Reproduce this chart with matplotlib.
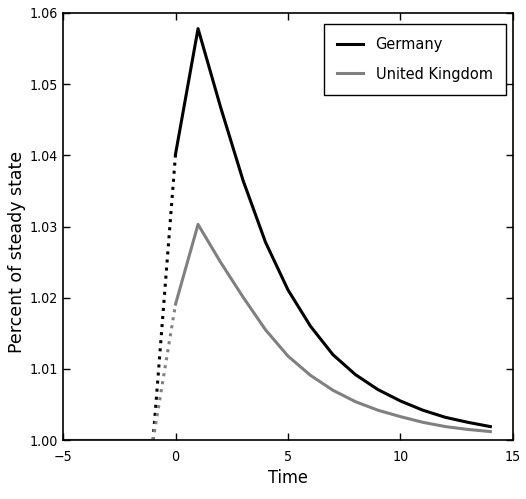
import numpy as np
import matplotlib.pyplot as plt

pre_t = [-5, -4, -3, -2, -1]
pre_val = [1.0, 1.0, 1.0, 1.0, 1.0]

jump_t = [-1, 0]
ger_jump = [1.0, 1.0402]
uk_jump = [1.0, 1.0191]

t = list(range(0, 15))
germany = [1.0402, 1.0578, 1.0468, 1.0365, 1.0278, 1.0211, 1.0160, 1.0120, 1.0092,
           1.0071, 1.0055, 1.0042, 1.0032, 1.0025, 1.0019]
uk = [1.0191, 1.0303, 1.0250, 1.0201, 1.0155, 1.0118, 1.0091, 1.0070, 1.0054,
      1.0042, 1.0033, 1.0025, 1.0019, 1.0015, 1.0012]

plt.rcParams['font.family'] = 'DejaVu Sans'
plt.rcParams['font.stretch'] = 'condensed'

fig = plt.figure(figsize=(5.26, 4.99), dpi=100)
ax = fig.add_axes([0.12, 0.118, 0.855, 0.856])

ax.plot(pre_t, pre_val, color='black', lw=2.2)
ax.plot(jump_t, ger_jump, color='black', lw=2.2, linestyle=':')
ax.plot(t, germany, color='black', lw=2.2, label='Germany')
ax.plot(pre_t, pre_val, color='0.5', lw=2.2)
ax.plot(jump_t, uk_jump, color='0.5', lw=2.2, linestyle=':')
ax.plot(t, uk, color='0.5', lw=2.2, label='United Kingdom')

ax.set_xlim(-5, 15)
ax.set_ylim(1.0, 1.06)
ax.set_xticks([-5, 0, 5, 10, 15])
ax.set_yticks([1.00, 1.01, 1.02, 1.03, 1.04, 1.05, 1.06])
ax.set_yticklabels(['1.00', '1.01', '1.02', '1.03', '1.04', '1.05', '1.06'])
ax.tick_params(direction='in', top=True, right=True, length=5, width=1,
               labelsize=10.2)
ax.tick_params(axis='x', pad=7)
ax.tick_params(axis='y', pad=4)
for s in ax.spines.values():
    s.set_linewidth(1.2)

ax.set_xlabel('Time', fontsize=13)
ax.set_ylabel('Percent of steady state', fontsize=12.5, fontstretch='normal')
ax.yaxis.set_label_coords(-0.082, 0.44)

leg = ax.legend(loc='upper right', bbox_to_anchor=(0.9844, 0.9742), borderaxespad=0,
                fontsize=11.7, fancybox=False, framealpha=1,
                edgecolor='black', handlelength=1.6, handletextpad=0.75,
                labelspacing=0.9, borderpad=0.82)
leg.get_frame().set_linewidth(1.0)

fig.savefig('out.png', dpi=100)
